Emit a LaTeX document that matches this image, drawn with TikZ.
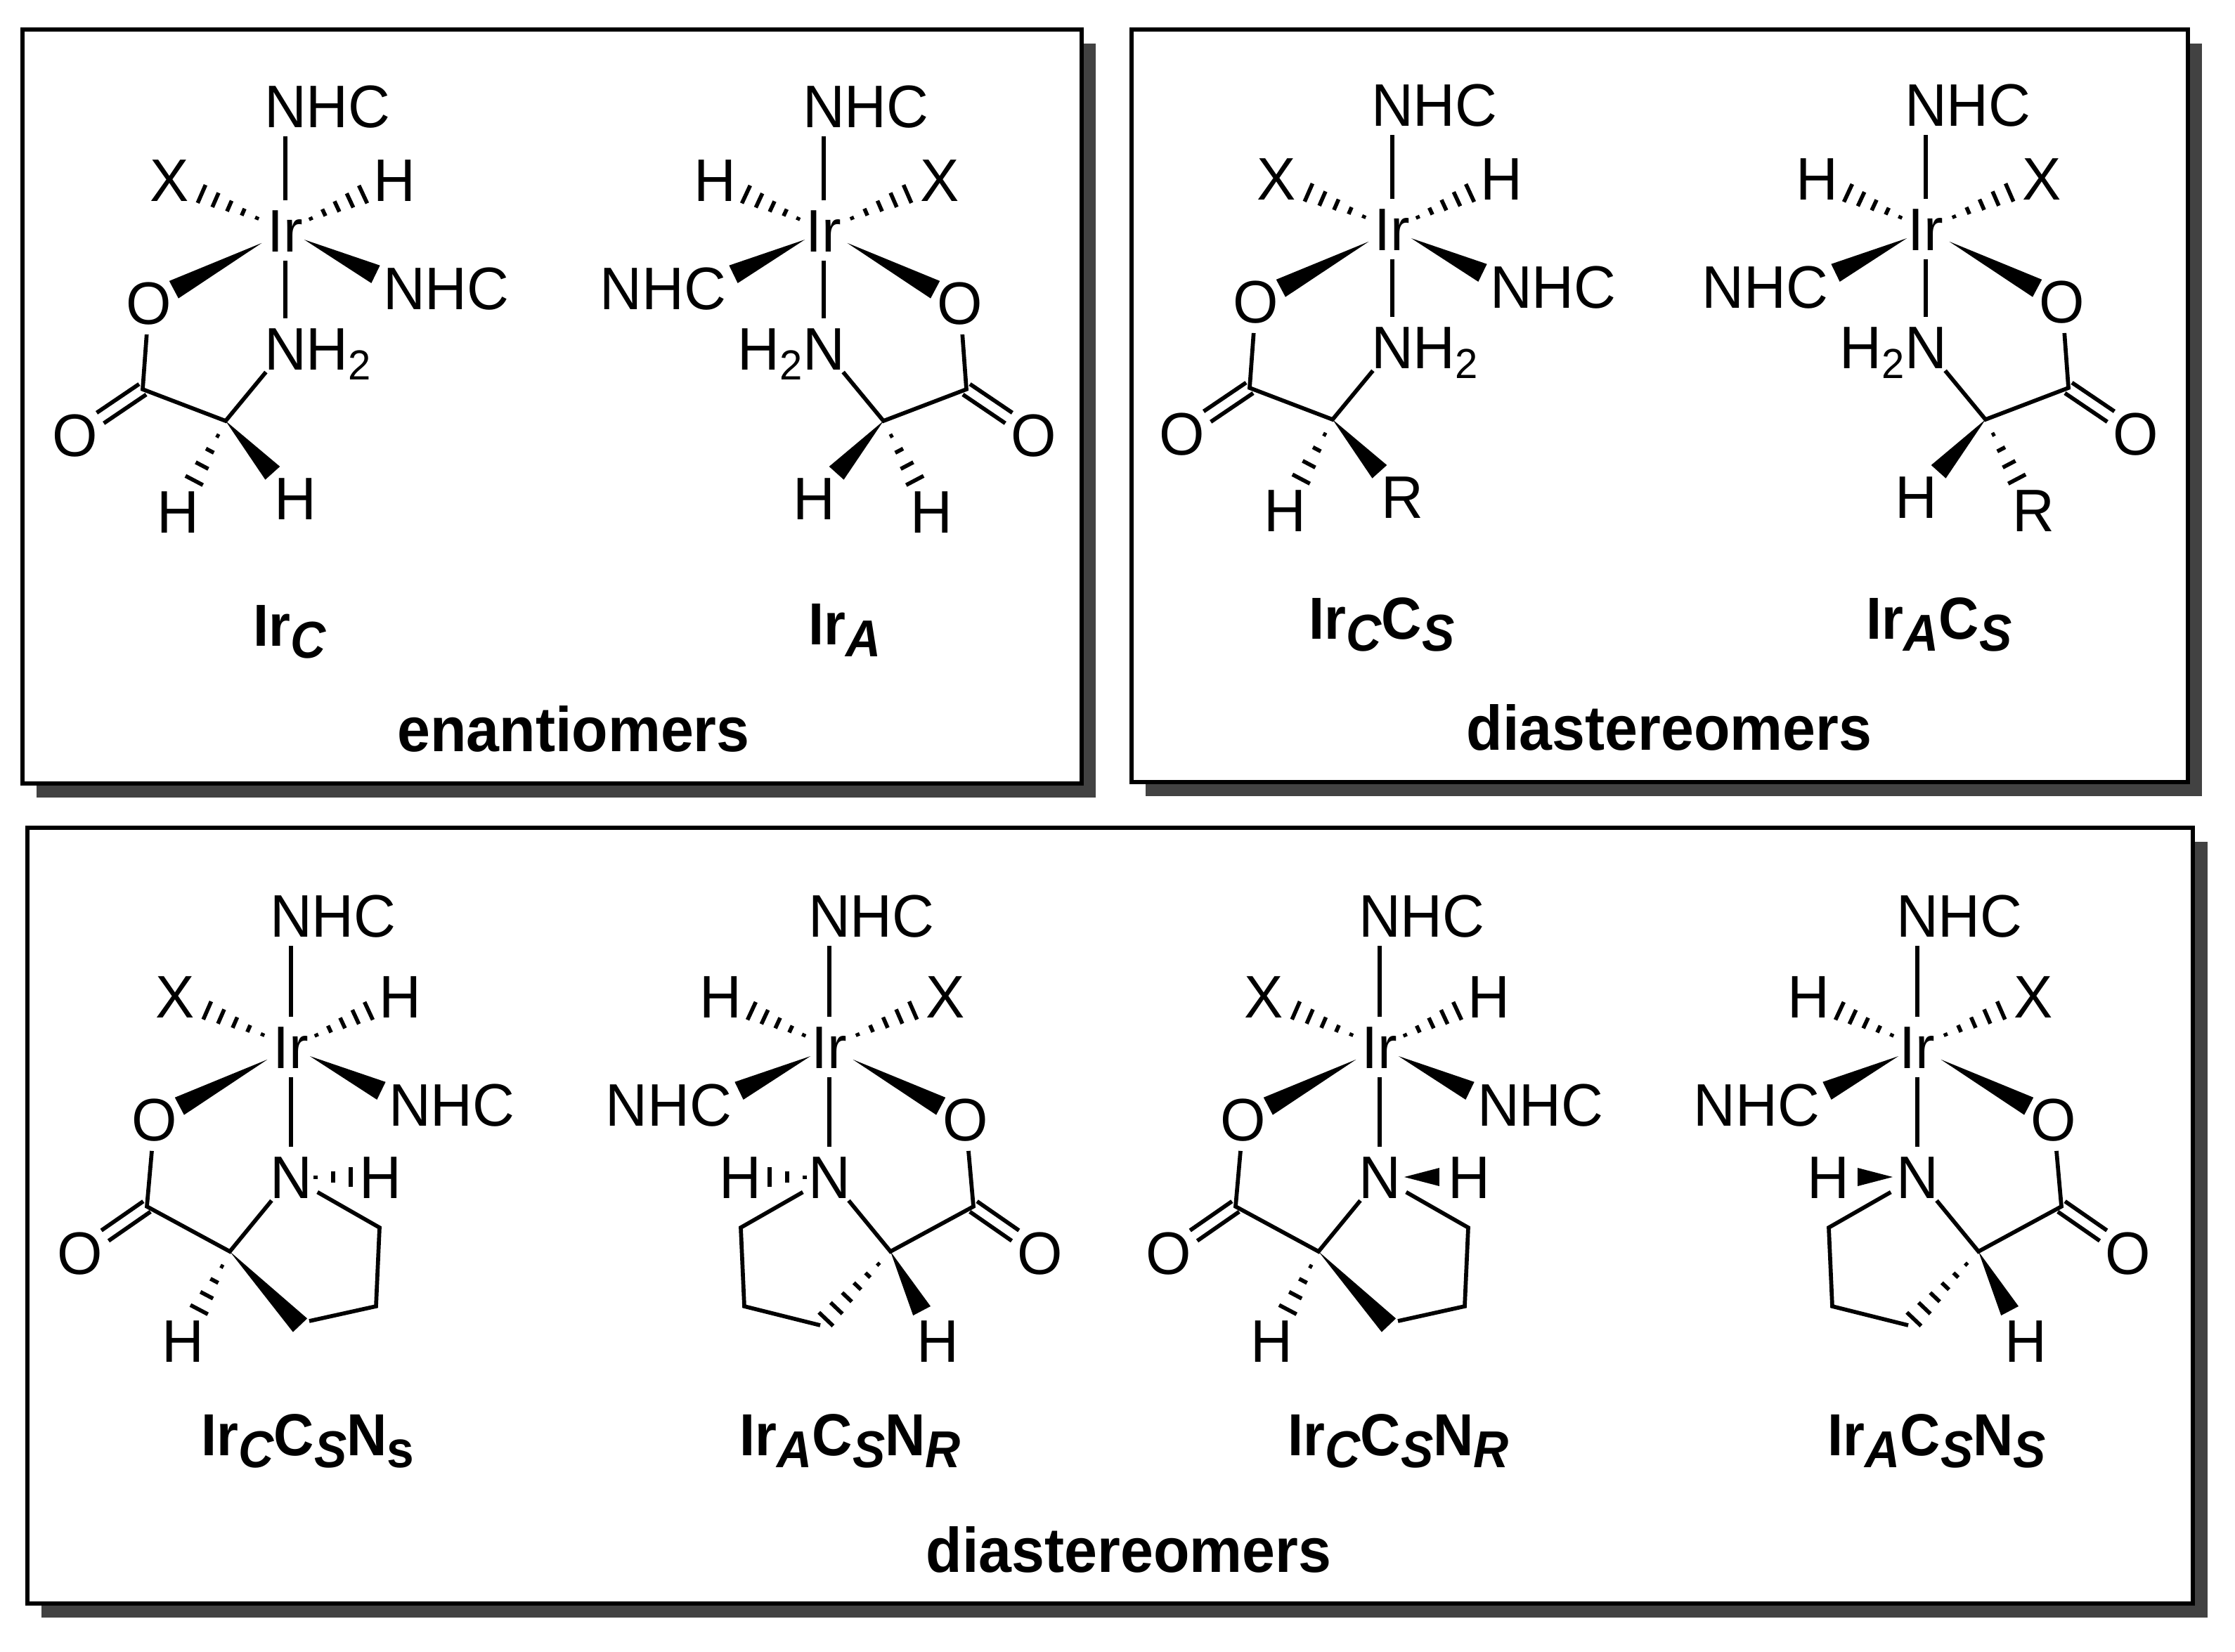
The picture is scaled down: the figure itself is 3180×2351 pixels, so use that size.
\documentclass[tikz,border=0pt]{standalone}
\usepackage{fontspec}
\setmainfont[FakeStretch=0.97]{Liberation Sans}
\newfontfamily\lblfont[FakeStretch=0.94]{Liberation Sans}
\usetikzlibrary{calc}
\definecolor{shadowgray}{HTML}{424242}
\tikzset{
  atom/.style={circle,inner sep=0pt,minimum size=0.84cm,text height=0.61cm,text depth=0pt,
    font=\fontsize{24.3}{24.3}\selectfont},
  bond/.style={line width=0.057cm,line cap=butt,line join=miter,black},
  hashline/.style={line width=0.056cm,line cap=butt,black},
  frameline/.style={line width=0.06cm,draw=black,fill=white,line join=miter},
  shadowbox/.style={fill=shadowgray},
  lbl/.style={anchor=base west,inner sep=0pt,font=\lblfont\bfseries\fontsize{24}{24}\selectfont},
  captionlbl/.style={anchor=base,inner sep=0pt,font=\lblfont\bfseries\fontsize{25.5}{25.5}\selectfont}
}
\newcommand\irsub[1]{\raisebox{-0.17cm}{\fontsize{21}{21}\selectfont\itshape #1}}
\newcommand\irsubup[1]{\raisebox{-0.17cm}{\fontsize{21}{21}\selectfont #1}}
\newcommand\irtwo{\raisebox{-0.14cm}{\fontsize{17}{17}\selectfont 2}}
% wedge: from #1 to #2; start distance #3 (cm) from #1, end distance #4 (cm) from #2, half width #5 (cm)
\newcommand\wedgeb[5]{%
  \coordinate (ws) at ($(#1)!#3cm!(#2)$);
  \coordinate (we) at ($(#2)!#4cm!(#1)$);
  \fill[black] (ws) -- ($(we)!#5cm!90:(ws)$) -- ($(we)!#5cm!-90:(ws)$) -- cycle;
}
% hashed wedge: stripes from #1 to #2; #3 and #4 as above, #5 stripes
\newcommand\hashb[5]{%
  \coordinate (hs) at ($(#1)!#3cm!(#2)$);
  \coordinate (he) at ($(#2)!#4cm!(#1)$);
  \foreach \i in {1,...,#5}{%
    \pgfmathsetmacro\t{(\i-1)/(#5-1)}%
    \pgfmathsetmacro\hw{0.025+0.115*\t}%
    \coordinate (hp) at ($(hs)!\t!(he)$);
    \draw[hashline] ($(hp)!\hw cm!90:(#2)$) -- ($(hp)!\hw cm!-90:(#2)$);
  }%
}
% double bond from vertex #1 to atom #2
\newcommand\dblb[2]{%
  \coordinate (de) at ($(#2)!0.43cm!(#1)$);
  \draw[bond] ($(#1)!0.09cm!90:(#2)$) -- ($(de)!0.09cm!-90:(#1)$);
  \draw[bond] ($(#1)!0.09cm!-90:(#2)$) -- ($(de)!0.09cm!90:(#1)$);
}
% common part: prefix, y of top NHC, text of side NHC
\newcommand\irhead[3]{%
  \node[atom] (#1Ir) at (0,0) {Ir};
  \node[atom] (#1Nt) at (0,#2) {N\rlap{HC}};
  \node[atom] (#1X) at (-165,-72) {X};
  \node[atom] (#1Ht) at (155,-72) {H};
  \node[atom] (#1Nr) at (169,82) {#3};
  \node[atom] (#1O) at (-194,103) {O};
  \draw[bond] (#1Ir) -- (#1Nt);
  \hashb{#1Ir}{#1X}{0.44}{0.5}{5}
  \hashb{#1Ir}{#1Ht}{0.40}{0.49}{5}
  \wedgeb{#1Ir}{#1O}{0.38}{0.40}{0.14}
  \wedgeb{#1Ir}{#1Nr}{0.30}{0.45}{0.14}
}
% acyclic amino acid: prefix, x, y, mirror, side NHC, N text, hashed label, wedged label
\newcommand\ircomplex[8]{%
  \begin{scope}[shift={(#2,#3)},xscale=#4]
    \irhead{#1}{-177}{#5}
    \node[atom] (#1N) at (0,168) {#6};
    \node[atom] (#1Ob) at (-299,291) {O};
    \coordinate (#1Cc) at (-203,226);
    \coordinate (#1Ca) at (-85,271);
    \node[atom] (#1Hh) at (-153,400) {#7};
    \node[atom] (#1Hw) at (14,381) {#8};
    \draw[bond] (#1Ir) -- (#1N);
    \draw[bond] (#1O) -- (#1Cc) -- (#1Ca) -- (#1N);
    \dblb{#1Cc}{#1Ob}
    \hashb{#1Ca}{#1Hh}{0.24}{0.5}{4}
    \wedgeb{#1Ca}{#1Hw}{0}{0.48}{0.14}
  \end{scope}
}
% proline: prefix, x, y, mirror, side NHC, 1=hashed NH / 0=wedged NH
\newcommand\irproline[6]{%
  \begin{scope}[shift={(#2,#3)},xscale=#4]
    \irhead{#1}{-187}{#5}
    \node[atom] (#1N) at (0,185) {N};
    \node[atom] (#1HN) at (127,185) {H};
    \node[atom] (#1Ob) at (-300,293) {O};
    \node[atom] (#1Hc) at (-154,418) {H};
    \coordinate (#1Cc) at (-205,227);
    \coordinate (#1Ca) at (-87,291);
    \coordinate (#1Cf) at (126,257);
    \coordinate (#1Cg) at (121,369);
    \coordinate (#1Ct) at (13,396);
    \coordinate (#1Cu) at (26,390);
    \draw[bond] (#1Ir) -- (#1N);
    \draw[bond] (#1O) -- (#1Cc) -- (#1Ca) -- (#1N);
    \dblb{#1Cc}{#1Ob}
    \ifnum#4=1
      \draw[bond] (#1N) -- (#1Cf) -- (#1Cg) -- (#1Cu);
      \hashb{#1Ca}{#1Hc}{0.24}{0.5}{4}
      \wedgeb{#1Ca}{#1Ct}{0}{0}{0.14}
    \else
      \draw[bond] (#1N) -- (#1Cf) -- (#1Cg) -- (#1Ct);
      \wedgeb{#1Ca}{#1Hc}{0}{0.48}{0.14}
      \hashb{#1Ca}{#1Ct}{0.25}{0.12}{6}
    \fi
    \ifnum#6=1
      \hashb{#1N}{#1HN}{0.35}{0.42}{3}
    \else
      \wedgeb{#1N}{#1HN}{0.35}{0.42}{0.13}
    \fi
  \end{scope}
}
\begin{document}
\begin{tikzpicture}[x=0.01cm,y=-0.01cm]
  \useasboundingbox (0,0) rectangle (3180,2351);
  \fill[white] (0,0) rectangle (3180,2351);
  % frames
  \fill[shadowbox] (52,62) rectangle (1559,1135);
  \draw[frameline] (32,42) rectangle (1539,1115);
  \fill[shadowbox] (1630,62) rectangle (3133,1133);
  \draw[frameline] (1610,42) rectangle (3113,1113);
  \fill[shadowbox] (59,1198) rectangle (3141,2302);
  \draw[frameline] (39,1178) rectangle (3120,2282);
  % panel 1
  \ircomplex{a}{406}{328}{1}{N\rlap{HC}}{N\rlap{H\irtwo}}{H}{H}
  \ircomplex{b}{1172}{328}{-1}{\llap{NH}C}{\llap{H\irtwo}N}{H}{H}
  % panel 2
  \ircomplex{c}{1981}{326}{1}{N\rlap{HC}}{N\rlap{H\irtwo}}{H}{R}
  \ircomplex{d}{2740}{326}{-1}{\llap{NH}C}{\llap{H\irtwo}N}{R}{H}
  % panel 3
  \irproline{e}{414}{1490}{1}{N\rlap{HC}}{1}
  \irproline{f}{1180}{1490}{-1}{\llap{NH}C}{1}
  \irproline{g}{1963}{1490}{1}{N\rlap{HC}}{0}
  \irproline{h}{2728}{1490}{-1}{\llap{NH}C}{0}
  % labels
  \node[lbl] (la) at (360,919) {Ir\irsub{C}};
  \node[lbl] (lb) at (1150,917) {Ir\irsub{A}};
  \node[lbl] (lc) at (1862,909) {Ir\irsub{C}C\irsub{S}};
  \node[lbl] (ld) at (2655,909) {Ir\irsub{A}C\irsub{S}};
  \node[lbl] (le) at (286,2071) {Ir\irsub{C}C\irsub{S}N\irsubup{s}};
  \node[lbl] (lf) at (1052,2071) {Ir\irsub{A}C\irsub{S}N\irsub{R}};
  \node[lbl] (lg) at (1832,2071) {Ir\irsub{C}C\irsub{S}N\irsub{R}};
  \node[lbl] (lh) at (2600,2071) {Ir\irsub{A}C\irsub{S}N\irsub{S}};
  \node[captionlbl] (ca) at (816,1069) {enantiomers};
  \node[captionlbl] (cb) at (2375,1067) {diastereomers};
  \node[captionlbl] (cc) at (1606,2237) {diastereomers};
\end{tikzpicture}
\end{document}
